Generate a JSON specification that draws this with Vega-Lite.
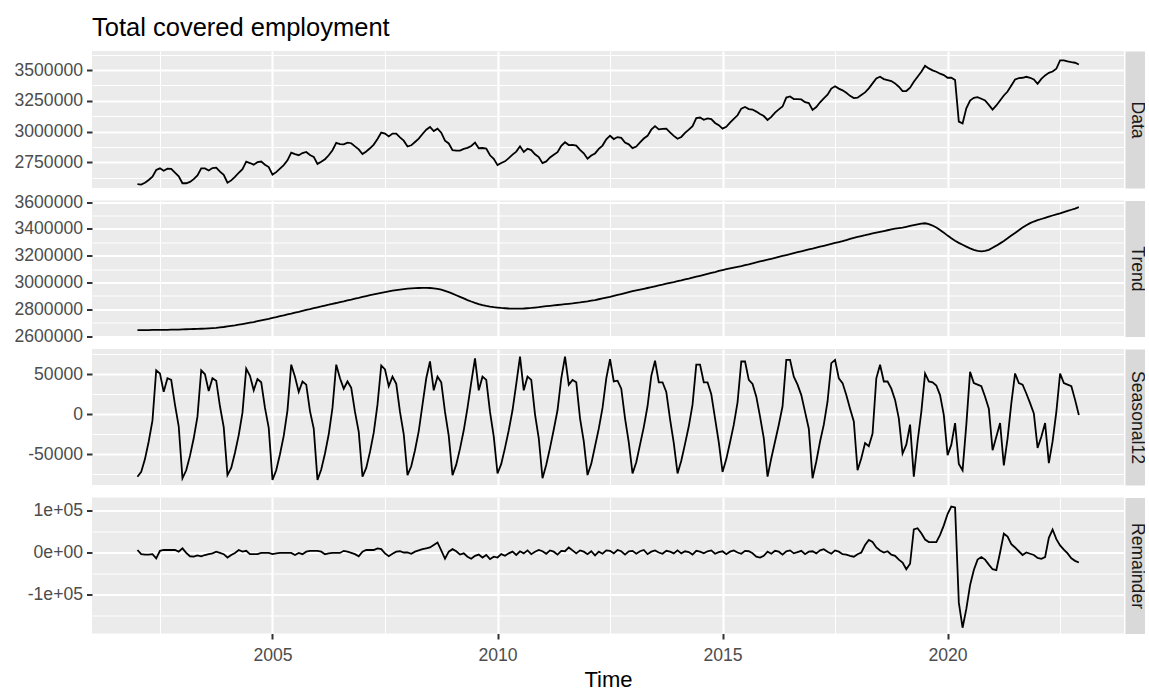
{
"$schema": "https://vega.github.io/schema/vega-lite/v6.json",
"background": "white",
"padding": {"left": 14, "top": 16, "right": 0, "bottom": 0},
"bounds": "flush",
"spacing": 12.5,
"title": {"text": "Total covered employment", "anchor": "start", "frame": "group", "fontSize": 25.5, "font": "Liberation Sans", "fontWeight": "normal", "color": "#000000", "offset": 4},
"config": {
  "font": "Liberation Sans",
  "view": {"fill": "#EBEBEB", "stroke": null},
  "line": {"color": "#000000", "strokeWidth": 1.8},
  "axis": {"gridColor": "#FFFFFF", "gridOpacity": 1, "labelFont": "Liberation Sans", "labelFontSize": 17.6, "labelColor": "#4D4D4D", "tickColor": "#333333", "tickSize": 5.5, "tickWidth": 2, "domain": false, "labelPadding": 4, "labelOverlap": false, "labelFlush": false, "labelBound": false, "titleFont": "Liberation Sans", "titleFontWeight": "normal"}
},
"datasets": {"stl": [
{"t":2002,"d":2573000,"tr":2645000,"s":-78000,"r":6000},
{"t":2002.0833,"d":2569000,"tr":2645000,"s":-72000,"r":-4000},
{"t":2002.1667,"d":2584000,"tr":2645000,"s":-56000,"r":-5000},
{"t":2002.25,"d":2606000,"tr":2645000,"s":-34000,"r":-5000},
{"t":2002.3333,"d":2634000,"tr":2646000,"s":-8000,"r":-4000},
{"t":2002.4167,"d":2687000,"tr":2646000,"s":55000,"r":-14000},
{"t":2002.5,"d":2701000,"tr":2646000,"s":51000,"r":4000},
{"t":2002.5833,"d":2681000,"tr":2647000,"s":28000,"r":6000},
{"t":2002.6667,"d":2698000,"tr":2647000,"s":45000,"r":6000},
{"t":2002.75,"d":2697000,"tr":2648000,"s":43000,"r":6000},
{"t":2002.8333,"d":2666000,"tr":2648000,"s":12000,"r":6000},
{"t":2002.9167,"d":2636000,"tr":2649000,"s":-15000,"r":2000},
{"t":2003,"d":2580000,"tr":2650000,"s":-80000,"r":10000},
{"t":2003.0833,"d":2580000,"tr":2651000,"s":-70000,"r":-1000},
{"t":2003.1667,"d":2591000,"tr":2652000,"s":-52000,"r":-9000},
{"t":2003.25,"d":2613000,"tr":2653000,"s":-30000,"r":-10000},
{"t":2003.3333,"d":2644000,"tr":2654000,"s":-3000,"r":-7000},
{"t":2003.4167,"d":2701000,"tr":2655000,"s":55000,"r":-9000},
{"t":2003.5,"d":2700000,"tr":2656000,"s":50000,"r":-6000},
{"t":2003.5833,"d":2683000,"tr":2658000,"s":29000,"r":-4000},
{"t":2003.6667,"d":2703000,"tr":2660000,"s":45000,"r":-2000},
{"t":2003.75,"d":2706000,"tr":2662000,"s":42000,"r":2000},
{"t":2003.8333,"d":2674000,"tr":2665000,"s":10000,"r":-1000},
{"t":2003.9167,"d":2648000,"tr":2668000,"s":-16000,"r":-4000},
{"t":2004,"d":2584000,"tr":2672000,"s":-76000,"r":-12000},
{"t":2004.0833,"d":2603000,"tr":2676000,"s":-67000,"r":-6000},
{"t":2004.1667,"d":2631000,"tr":2680000,"s":-48000,"r":-1000},
{"t":2004.25,"d":2665000,"tr":2685000,"s":-26000,"r":6000},
{"t":2004.3333,"d":2694000,"tr":2690000,"s":2000,"r":2000},
{"t":2004.4167,"d":2756000,"tr":2695000,"s":57000,"r":4000},
{"t":2004.5,"d":2744000,"tr":2700000,"s":48000,"r":-4000},
{"t":2004.5833,"d":2731000,"tr":2705000,"s":30000,"r":-4000},
{"t":2004.6667,"d":2751000,"tr":2711000,"s":44000,"r":-4000},
{"t":2004.75,"d":2756000,"tr":2717000,"s":40000,"r":-1000},
{"t":2004.8333,"d":2730000,"tr":2723000,"s":8000,"r":-1000},
{"t":2004.9167,"d":2711000,"tr":2729000,"s":-17000,"r":-1000},
{"t":2005,"d":2650000,"tr":2736000,"s":-82000,"r":-4000},
{"t":2005.0833,"d":2670000,"tr":2742000,"s":-70000,"r":-2000},
{"t":2005.1667,"d":2698000,"tr":2749000,"s":-50000,"r":-1000},
{"t":2005.25,"d":2727000,"tr":2755000,"s":-27000,"r":-1000},
{"t":2005.3333,"d":2766000,"tr":2762000,"s":5000,"r":-1000},
{"t":2005.4167,"d":2829000,"tr":2768000,"s":62000,"r":-1000},
{"t":2005.5,"d":2816000,"tr":2775000,"s":47000,"r":-6000},
{"t":2005.5833,"d":2808000,"tr":2781000,"s":28000,"r":-1000},
{"t":2005.6667,"d":2825000,"tr":2788000,"s":41000,"r":-4000},
{"t":2005.75,"d":2834000,"tr":2795000,"s":37000,"r":2000},
{"t":2005.8333,"d":2809000,"tr":2801000,"s":4000,"r":4000},
{"t":2005.9167,"d":2794000,"tr":2808000,"s":-18000,"r":4000},
{"t":2006,"d":2737000,"tr":2815000,"s":-82000,"r":4000},
{"t":2006.0833,"d":2754000,"tr":2821000,"s":-69000,"r":2000},
{"t":2006.1667,"d":2775000,"tr":2828000,"s":-49000,"r":-4000},
{"t":2006.25,"d":2807000,"tr":2834000,"s":-25000,"r":-2000},
{"t":2006.3333,"d":2848000,"tr":2841000,"s":8000,"r":-1000},
{"t":2006.4167,"d":2908000,"tr":2847000,"s":62000,"r":-1000},
{"t":2006.5,"d":2898000,"tr":2854000,"s":45000,"r":-1000},
{"t":2006.5833,"d":2896000,"tr":2860000,"s":32000,"r":4000},
{"t":2006.6667,"d":2910000,"tr":2867000,"s":41000,"r":2000},
{"t":2006.75,"d":2905000,"tr":2873000,"s":33000,"r":-1000},
{"t":2006.8333,"d":2879000,"tr":2880000,"s":3000,"r":-4000},
{"t":2006.9167,"d":2855000,"tr":2886000,"s":-22000,"r":-9000},
{"t":2007,"d":2817000,"tr":2893000,"s":-78000,"r":2000},
{"t":2007.0833,"d":2838000,"tr":2899000,"s":-67000,"r":6000},
{"t":2007.1667,"d":2864000,"tr":2905000,"s":-47000,"r":6000},
{"t":2007.25,"d":2894000,"tr":2911000,"s":-23000,"r":6000},
{"t":2007.3333,"d":2939000,"tr":2917000,"s":12000,"r":10000},
{"t":2007.4167,"d":2992000,"tr":2923000,"s":61000,"r":8000},
{"t":2007.5,"d":2983000,"tr":2929000,"s":56000,"r":-2000},
{"t":2007.5833,"d":2960000,"tr":2934000,"s":35000,"r":-9000},
{"t":2007.6667,"d":2983000,"tr":2939000,"s":47000,"r":-3000},
{"t":2007.75,"d":2983000,"tr":2943000,"s":38000,"r":2000},
{"t":2007.8333,"d":2953000,"tr":2947000,"s":3000,"r":3000},
{"t":2007.9167,"d":2926000,"tr":2951000,"s":-25000,"r":0},
{"t":2008,"d":2878000,"tr":2954000,"s":-76000,"r":0},
{"t":2008.0833,"d":2888000,"tr":2956000,"s":-65000,"r":-3000},
{"t":2008.1667,"d":2915000,"tr":2958000,"s":-45000,"r":2000},
{"t":2008.25,"d":2943000,"tr":2959000,"s":-21000,"r":5000},
{"t":2008.3333,"d":2980000,"tr":2960000,"s":12000,"r":8000},
{"t":2008.4167,"d":3015000,"tr":2960000,"s":45000,"r":10000},
{"t":2008.5,"d":3037000,"tr":2959000,"s":66000,"r":12000},
{"t":2008.5833,"d":3004000,"tr":2956000,"s":30000,"r":18000},
{"t":2008.6667,"d":3023000,"tr":2952000,"s":47000,"r":24000},
{"t":2008.75,"d":2991000,"tr":2946000,"s":40000,"r":5000},
{"t":2008.8333,"d":2926000,"tr":2938000,"s":3000,"r":-15000},
{"t":2008.9167,"d":2903000,"tr":2928000,"s":-27000,"r":2000},
{"t":2009,"d":2849000,"tr":2917000,"s":-76000,"r":8000},
{"t":2009.0833,"d":2845000,"tr":2905000,"s":-63000,"r":3000},
{"t":2009.1667,"d":2845000,"tr":2893000,"s":-43000,"r":-5000},
{"t":2009.25,"d":2859000,"tr":2881000,"s":-20000,"r":-2000},
{"t":2009.3333,"d":2867000,"tr":2869000,"s":8000,"r":-10000},
{"t":2009.4167,"d":2883000,"tr":2858000,"s":40000,"r":-15000},
{"t":2009.5,"d":2910000,"tr":2848000,"s":70000,"r":-8000},
{"t":2009.5833,"d":2864000,"tr":2839000,"s":30000,"r":-5000},
{"t":2009.6667,"d":2866000,"tr":2831000,"s":47000,"r":-12000},
{"t":2009.75,"d":2862000,"tr":2825000,"s":43000,"r":-6000},
{"t":2009.8333,"d":2807000,"tr":2820000,"s":3000,"r":-16000},
{"t":2009.9167,"d":2778000,"tr":2816000,"s":-28000,"r":-10000},
{"t":2010,"d":2727000,"tr":2813000,"s":-74000,"r":-12000},
{"t":2010.0833,"d":2744000,"tr":2810000,"s":-62000,"r":-4000},
{"t":2010.1667,"d":2758000,"tr":2808000,"s":-42000,"r":-8000},
{"t":2010.25,"d":2784000,"tr":2806000,"s":-20000,"r":-2000},
{"t":2010.3333,"d":2812000,"tr":2805000,"s":5000,"r":2000},
{"t":2010.4167,"d":2837000,"tr":2805000,"s":38000,"r":-6000},
{"t":2010.5,"d":2880000,"tr":2805000,"s":72000,"r":3000},
{"t":2010.5833,"d":2834000,"tr":2806000,"s":30000,"r":-2000},
{"t":2010.6667,"d":2860000,"tr":2808000,"s":47000,"r":5000},
{"t":2010.75,"d":2849000,"tr":2810000,"s":43000,"r":-4000},
{"t":2010.8333,"d":2815000,"tr":2813000,"s":0,"r":2000},
{"t":2010.9167,"d":2792000,"tr":2816000,"s":-30000,"r":6000},
{"t":2011,"d":2743000,"tr":2820000,"s":-80000,"r":3000},
{"t":2011.0833,"d":2757000,"tr":2823000,"s":-63000,"r":-3000},
{"t":2011.1667,"d":2789000,"tr":2826000,"s":-42000,"r":5000},
{"t":2011.25,"d":2812000,"tr":2829000,"s":-19000,"r":2000},
{"t":2011.3333,"d":2832000,"tr":2832000,"s":5000,"r":-5000},
{"t":2011.4167,"d":2884000,"tr":2835000,"s":45000,"r":4000},
{"t":2011.5,"d":2913000,"tr":2838000,"s":72000,"r":3000},
{"t":2011.5833,"d":2890000,"tr":2841000,"s":37000,"r":12000},
{"t":2011.6667,"d":2892000,"tr":2844000,"s":43000,"r":5000},
{"t":2011.75,"d":2886000,"tr":2848000,"s":40000,"r":-2000},
{"t":2011.8333,"d":2851000,"tr":2851000,"s":-5000,"r":5000},
{"t":2011.9167,"d":2823000,"tr":2855000,"s":-34000,"r":2000},
{"t":2012,"d":2779000,"tr":2859000,"s":-76000,"r":-4000},
{"t":2012.0833,"d":2805000,"tr":2864000,"s":-62000,"r":3000},
{"t":2012.1667,"d":2822000,"tr":2869000,"s":-40000,"r":-7000},
{"t":2012.25,"d":2859000,"tr":2875000,"s":-18000,"r":2000},
{"t":2012.3333,"d":2886000,"tr":2881000,"s":8000,"r":-3000},
{"t":2012.4167,"d":2937000,"tr":2887000,"s":45000,"r":5000},
{"t":2012.5,"d":2966000,"tr":2893000,"s":69000,"r":4000},
{"t":2012.5833,"d":2939000,"tr":2900000,"s":41000,"r":-2000},
{"t":2012.6667,"d":2955000,"tr":2907000,"s":42000,"r":6000},
{"t":2012.75,"d":2949000,"tr":2914000,"s":32000,"r":3000},
{"t":2012.8333,"d":2911000,"tr":2921000,"s":-5000,"r":-5000},
{"t":2012.9167,"d":2896000,"tr":2928000,"s":-35000,"r":3000},
{"t":2013,"d":2865000,"tr":2935000,"s":-74000,"r":4000},
{"t":2013.0833,"d":2878000,"tr":2941000,"s":-60000,"r":-3000},
{"t":2013.1667,"d":2912000,"tr":2947000,"s":-38000,"r":3000},
{"t":2013.25,"d":2943000,"tr":2953000,"s":-16000,"r":6000},
{"t":2013.3333,"d":2965000,"tr":2959000,"s":10000,"r":-4000},
{"t":2013.4167,"d":3015000,"tr":2965000,"s":48000,"r":2000},
{"t":2013.5,"d":3044000,"tr":2972000,"s":67000,"r":5000},
{"t":2013.5833,"d":3018000,"tr":2978000,"s":40000,"r":0},
{"t":2013.6667,"d":3021000,"tr":2984000,"s":40000,"r":-3000},
{"t":2013.75,"d":3023000,"tr":2991000,"s":28000,"r":4000},
{"t":2013.8333,"d":2993000,"tr":2997000,"s":-6000,"r":2000},
{"t":2013.9167,"d":2965000,"tr":3003000,"s":-36000,"r":-2000},
{"t":2014,"d":2941000,"tr":3010000,"s":-74000,"r":5000},
{"t":2014.0833,"d":2956000,"tr":3016000,"s":-58000,"r":-2000},
{"t":2014.1667,"d":2989000,"tr":3023000,"s":-37000,"r":3000},
{"t":2014.25,"d":3015000,"tr":3029000,"s":-15000,"r":1000},
{"t":2014.3333,"d":3043000,"tr":3036000,"s":12000,"r":-5000},
{"t":2014.4167,"d":3109000,"tr":3043000,"s":62000,"r":4000},
{"t":2014.5,"d":3114000,"tr":3050000,"s":62000,"r":2000},
{"t":2014.5833,"d":3095000,"tr":3057000,"s":40000,"r":-2000},
{"t":2014.6667,"d":3107000,"tr":3064000,"s":40000,"r":3000},
{"t":2014.75,"d":3101000,"tr":3071000,"s":25000,"r":5000},
{"t":2014.8333,"d":3070000,"tr":3078000,"s":-5000,"r":-3000},
{"t":2014.9167,"d":3052000,"tr":3086000,"s":-35000,"r":1000},
{"t":2015,"d":3024000,"tr":3093000,"s":-72000,"r":3000},
{"t":2015.0833,"d":3039000,"tr":3099000,"s":-56000,"r":-4000},
{"t":2015.1667,"d":3072000,"tr":3105000,"s":-35000,"r":2000},
{"t":2015.25,"d":3103000,"tr":3111000,"s":-13000,"r":5000},
{"t":2015.3333,"d":3132000,"tr":3117000,"s":15000,"r":0},
{"t":2015.4167,"d":3186000,"tr":3123000,"s":66000,"r":-3000},
{"t":2015.5,"d":3200000,"tr":3130000,"s":66000,"r":4000},
{"t":2015.5833,"d":3182000,"tr":3136000,"s":43000,"r":3000},
{"t":2015.6667,"d":3179000,"tr":3143000,"s":38000,"r":-2000},
{"t":2015.75,"d":3162000,"tr":3150000,"s":22000,"r":-10000},
{"t":2015.8333,"d":3142000,"tr":3157000,"s":-3000,"r":-12000},
{"t":2015.9167,"d":3126000,"tr":3164000,"s":-30000,"r":-8000},
{"t":2016,"d":3094000,"tr":3170000,"s":-78000,"r":2000},
{"t":2016.0833,"d":3119000,"tr":3177000,"s":-55000,"r":-3000},
{"t":2016.1667,"d":3154000,"tr":3184000,"s":-34000,"r":4000},
{"t":2016.25,"d":3180000,"tr":3191000,"s":-13000,"r":2000},
{"t":2016.3333,"d":3203000,"tr":3198000,"s":10000,"r":-5000},
{"t":2016.4167,"d":3276000,"tr":3205000,"s":68000,"r":3000},
{"t":2016.5,"d":3285000,"tr":3212000,"s":68000,"r":5000},
{"t":2016.5833,"d":3264000,"tr":3219000,"s":47000,"r":-2000},
{"t":2016.6667,"d":3264000,"tr":3226000,"s":37000,"r":1000},
{"t":2016.75,"d":3261000,"tr":3233000,"s":24000,"r":4000},
{"t":2016.8333,"d":3239000,"tr":3240000,"s":3000,"r":-4000},
{"t":2016.9167,"d":3231000,"tr":3247000,"s":-18000,"r":2000},
{"t":2017,"d":3176000,"tr":3253000,"s":-80000,"r":3000},
{"t":2017.0833,"d":3199000,"tr":3260000,"s":-59000,"r":-2000},
{"t":2017.1667,"d":3238000,"tr":3267000,"s":-34000,"r":5000},
{"t":2017.25,"d":3269000,"tr":3274000,"s":-13000,"r":8000},
{"t":2017.3333,"d":3299000,"tr":3281000,"s":16000,"r":2000},
{"t":2017.4167,"d":3349000,"tr":3288000,"s":64000,"r":-3000},
{"t":2017.5,"d":3368000,"tr":3295000,"s":68000,"r":5000},
{"t":2017.5833,"d":3349000,"tr":3302000,"s":45000,"r":2000},
{"t":2017.6667,"d":3335000,"tr":3309000,"s":39000,"r":-4000},
{"t":2017.75,"d":3315000,"tr":3317000,"s":24000,"r":-5000},
{"t":2017.8333,"d":3290000,"tr":3325000,"s":7000,"r":-8000},
{"t":2017.9167,"d":3272000,"tr":3333000,"s":-9000,"r":-10000},
{"t":2018,"d":3275000,"tr":3340000,"s":-70000,"r":-4000},
{"t":2018.0833,"d":3296000,"tr":3347000,"s":-55000,"r":0},
{"t":2018.1667,"d":3318000,"tr":3353000,"s":-36000,"r":18000},
{"t":2018.25,"d":3351000,"tr":3360000,"s":-40000,"r":30000},
{"t":2018.3333,"d":3391000,"tr":3366000,"s":-24000,"r":25000},
{"t":2018.4167,"d":3432000,"tr":3372000,"s":45000,"r":12000},
{"t":2018.5,"d":3445000,"tr":3378000,"s":62000,"r":5000},
{"t":2018.5833,"d":3426000,"tr":3384000,"s":41000,"r":0},
{"t":2018.6667,"d":3418000,"tr":3390000,"s":41000,"r":3000},
{"t":2018.75,"d":3410000,"tr":3396000,"s":32000,"r":-5000},
{"t":2018.8333,"d":3391000,"tr":3402000,"s":18000,"r":-8000},
{"t":2018.9167,"d":3364000,"tr":3406000,"s":-5000,"r":-17000},
{"t":2019,"d":3329000,"tr":3410000,"s":-49000,"r":-24000},
{"t":2019.0833,"d":3329000,"tr":3416000,"s":-38000,"r":-40000},
{"t":2019.1667,"d":3356000,"tr":3422000,"s":-13000,"r":-27000},
{"t":2019.25,"d":3405000,"tr":3428000,"s":-78000,"r":55000},
{"t":2019.3333,"d":3445000,"tr":3434000,"s":-34000,"r":58000},
{"t":2019.4167,"d":3486000,"tr":3440000,"s":3000,"r":46000},
{"t":2019.5,"d":3535000,"tr":3442000,"s":51000,"r":31000},
{"t":2019.5833,"d":3513000,"tr":3436000,"s":41000,"r":25000},
{"t":2019.6667,"d":3497000,"tr":3425000,"s":40000,"r":25000},
{"t":2019.75,"d":3486000,"tr":3410000,"s":36000,"r":25000},
{"t":2019.8333,"d":3470000,"tr":3392000,"s":24000,"r":42000},
{"t":2019.9167,"d":3459000,"tr":3372000,"s":-1000,"r":65000},
{"t":2020,"d":3437000,"tr":3350000,"s":-51000,"r":92000},
{"t":2020.0833,"d":3437000,"tr":3330000,"s":-38000,"r":110000},
{"t":2020.1667,"d":3418000,"tr":3312000,"s":-11000,"r":108000},
{"t":2020.25,"d":3080000,"tr":3296000,"s":-62000,"r":-120000},
{"t":2020.3333,"d":3066000,"tr":3282000,"s":-70000,"r":-180000},
{"t":2020.4167,"d":3188000,"tr":3268000,"s":-13000,"r":-135000},
{"t":2020.5,"d":3252000,"tr":3255000,"s":53000,"r":-78000},
{"t":2020.5833,"d":3274000,"tr":3244000,"s":39000,"r":-42000},
{"t":2020.6667,"d":3280000,"tr":3236000,"s":37000,"r":-17000},
{"t":2020.75,"d":3266000,"tr":3233000,"s":35000,"r":-11000},
{"t":2020.8333,"d":3252000,"tr":3236000,"s":22000,"r":-17000},
{"t":2020.9167,"d":3217000,"tr":3244000,"s":7000,"r":-29000},
{"t":2021,"d":3179000,"tr":3260000,"s":-45000,"r":-40000},
{"t":2021.0833,"d":3212000,"tr":3275000,"s":-28000,"r":-42000},
{"t":2021.1667,"d":3252000,"tr":3292000,"s":-11000,"r":0},
{"t":2021.25,"d":3293000,"tr":3310000,"s":-64000,"r":45000},
{"t":2021.3333,"d":3325000,"tr":3330000,"s":-30000,"r":38000},
{"t":2021.4167,"d":3374000,"tr":3350000,"s":14000,"r":20000},
{"t":2021.5,"d":3423000,"tr":3370000,"s":51000,"r":12000},
{"t":2021.5833,"d":3434000,"tr":3390000,"s":39000,"r":3000},
{"t":2021.6667,"d":3437000,"tr":3410000,"s":37000,"r":-6000},
{"t":2021.75,"d":3445000,"tr":3428000,"s":26000,"r":0},
{"t":2021.8333,"d":3437000,"tr":3443000,"s":14000,"r":-3000},
{"t":2021.9167,"d":3423000,"tr":3455000,"s":1000,"r":-6000},
{"t":2022,"d":3388000,"tr":3465000,"s":-42000,"r":-13000},
{"t":2022.0833,"d":3428000,"tr":3474000,"s":-28000,"r":-15000},
{"t":2022.1667,"d":3456000,"tr":3483000,"s":-11000,"r":-11000},
{"t":2022.25,"d":3477000,"tr":3492000,"s":-61000,"r":35000},
{"t":2022.3333,"d":3488000,"tr":3500000,"s":-34000,"r":55000},
{"t":2022.4167,"d":3510000,"tr":3508000,"s":3000,"r":32000},
{"t":2022.5,"d":3578000,"tr":3516000,"s":51000,"r":17000},
{"t":2022.5833,"d":3578000,"tr":3525000,"s":39000,"r":7000},
{"t":2022.6667,"d":3570000,"tr":3534000,"s":37000,"r":-2000},
{"t":2022.75,"d":3564000,"tr":3543000,"s":35000,"r":-14000},
{"t":2022.8333,"d":3559000,"tr":3552000,"s":18000,"r":-20000},
{"t":2022.9167,"d":3545000,"tr":3562000,"s":-1000,"r":-24000}
]},
"vconcat": [
{"width": 1032, "height": 137, "data": {"name": "stl"},
 "resolve": {"scale": {"y": "independent"}, "axis": {"y": "independent"}},
 "layer": [
  {"mark": {"type": "line"},
   "encoding": {
     "x": {"field": "t", "type": "quantitative", "scale": {"domain": [2000.99, 2023.92], "nice": false, "zero": false},
           "axis": {"title": null, "labels": false, "ticks": false, "values": [2002.5,2005,2007.5,2010,2012.5,2015,2017.5,2020,2022.5], "gridWidth": {"condition": {"test": "datum.value % 5 !== 0", "value": 1.05}, "value": 2.1}}},
     "y": {"field": "d", "type": "quantitative", "scale": {"domain": [2541200, 3654400], "nice": false, "zero": false},
           "axis": {"title": null, "values": [2625000,2750000,2875000,3000000,3125000,3250000,3375000,3500000,3625000], "labelExpr": "datum.value % 250000 === 0 ? toString(datum.value) : ''", "gridWidth": {"condition": {"test": "datum.value % 250000 !== 0", "value": 1.05}, "value": 2.1}, "tickOpacity": {"condition": {"test": "datum.value % 250000 !== 0", "value": 0}, "value": 1}}}
   }},
  {"mark": {"type": "rule", "opacity": 0},
   "encoding": {
     "y": {"field": "d", "type": "quantitative", "scale": {"domain": [2541200, 3654400], "nice": false, "zero": false},
           "axis": {"orient": "right", "labels": false, "ticks": false, "grid": false, "domain": true, "domainColor": "#D9D9D9", "domainWidth": 22, "offset": 12, "title": "Data", "titleAngle": 90, "titleBaseline": "middle", "titleAlign": "center", "titlePadding": 0, "titleFontSize": 17.6, "titleColor": "#1A1A1A"}}
   }}
 ]},
{"width": 1032, "height": 136, "data": {"name": "stl"},
 "resolve": {"scale": {"y": "independent"}, "axis": {"y": "independent"}},
 "layer": [
  {"mark": {"type": "line"},
   "encoding": {
     "x": {"field": "t", "type": "quantitative", "scale": {"domain": [2000.99, 2023.92], "nice": false, "zero": false},
           "axis": {"title": null, "labels": false, "ticks": false, "values": [2002.5,2005,2007.5,2010,2012.5,2015,2017.5,2020,2022.5], "gridWidth": {"condition": {"test": "datum.value % 5 !== 0", "value": 1.05}, "value": 2.1}}},
     "y": {"field": "tr", "type": "quantitative", "scale": {"domain": [2597000, 3612000], "nice": false, "zero": false},
           "axis": {"title": null, "values": [2600000,2700000,2800000,2900000,3000000,3100000,3200000,3300000,3400000,3500000,3600000], "labelExpr": "datum.value % 200000 === 0 ? toString(datum.value) : ''", "gridWidth": {"condition": {"test": "datum.value % 200000 !== 0", "value": 1.05}, "value": 2.1}, "tickOpacity": {"condition": {"test": "datum.value % 200000 !== 0", "value": 0}, "value": 1}}}
   }},
  {"mark": {"type": "rule", "opacity": 0},
   "encoding": {
     "y": {"field": "tr", "type": "quantitative", "scale": {"domain": [2597000, 3612000], "nice": false, "zero": false},
           "axis": {"orient": "right", "labels": false, "ticks": false, "grid": false, "domain": true, "domainColor": "#D9D9D9", "domainWidth": 22, "offset": 12, "title": "Trend", "titleAngle": 90, "titleBaseline": "middle", "titleAlign": "center", "titlePadding": 0, "titleFontSize": 17.6, "titleColor": "#1A1A1A"}}
   }}
 ]},
{"width": 1032, "height": 136, "data": {"name": "stl"},
 "resolve": {"scale": {"y": "independent"}, "axis": {"y": "independent"}},
 "layer": [
  {"mark": {"type": "line"},
   "encoding": {
     "x": {"field": "t", "type": "quantitative", "scale": {"domain": [2000.99, 2023.92], "nice": false, "zero": false},
           "axis": {"title": null, "labels": false, "ticks": false, "values": [2002.5,2005,2007.5,2010,2012.5,2015,2017.5,2020,2022.5], "gridWidth": {"condition": {"test": "datum.value % 5 !== 0", "value": 1.05}, "value": 2.1}}},
     "y": {"field": "s", "type": "quantitative", "scale": {"domain": [-88400, 81600], "nice": false, "zero": false},
           "axis": {"title": null, "values": [-75000,-50000,-25000,0,25000,50000,75000], "labelExpr": "datum.value % 50000 === 0 ? toString(datum.value) : ''", "gridWidth": {"condition": {"test": "datum.value % 50000 !== 0", "value": 1.05}, "value": 2.1}, "tickOpacity": {"condition": {"test": "datum.value % 50000 !== 0", "value": 0}, "value": 1}}}
   }},
  {"mark": {"type": "rule", "opacity": 0},
   "encoding": {
     "y": {"field": "s", "type": "quantitative", "scale": {"domain": [-88400, 81600], "nice": false, "zero": false},
           "axis": {"orient": "right", "labels": false, "ticks": false, "grid": false, "domain": true, "domainColor": "#D9D9D9", "domainWidth": 22, "offset": 12, "title": "Seasonal12", "titleAngle": 90, "titleBaseline": "middle", "titleAlign": "center", "titlePadding": 0, "titleFontSize": 17.6, "titleColor": "#1A1A1A"}}
   }}
 ]},
{"width": 1032, "height": 136, "data": {"name": "stl"},
 "resolve": {"scale": {"y": "independent"}, "axis": {"y": "independent"}},
 "layer": [
  {"mark": {"type": "line"},
   "encoding": {
     "x": {"field": "t", "type": "quantitative", "scale": {"domain": [2000.99, 2023.92], "nice": false, "zero": false},
           "axis": {"title": "Time", "titleFontSize": 22, "titleColor": "#000000", "titlePadding": 6, "labelPadding": 7, "values": [2002.5,2005,2007.5,2010,2012.5,2015,2017.5,2020,2022.5], "labelExpr": "datum.value % 5 === 0 ? toString(datum.value) : ''", "gridWidth": {"condition": {"test": "datum.value % 5 !== 0", "value": 1.05}, "value": 2.1}, "tickOpacity": {"condition": {"test": "datum.value % 5 !== 0", "value": 0}, "value": 1}}},
     "y": {"field": "r", "type": "quantitative", "scale": {"domain": [-193800, 131600], "nice": false, "zero": false},
           "axis": {"title": null, "values": [-150000,-100000,-50000,0,50000,100000], "labelExpr": "datum.value === 100000 ? '1e+05' : datum.value === 0 ? '0e+00' : datum.value === -100000 ? '-1e+05' : ''", "gridWidth": {"condition": {"test": "datum.value % 100000 !== 0", "value": 1.05}, "value": 2.1}, "tickOpacity": {"condition": {"test": "datum.value % 100000 !== 0", "value": 0}, "value": 1}}}
   }},
  {"mark": {"type": "rule", "opacity": 0},
   "encoding": {
     "y": {"field": "r", "type": "quantitative", "scale": {"domain": [-193800, 131600], "nice": false, "zero": false},
           "axis": {"orient": "right", "labels": false, "ticks": false, "grid": false, "domain": true, "domainColor": "#D9D9D9", "domainWidth": 22, "offset": 12, "title": "Remainder", "titleAngle": 90, "titleBaseline": "middle", "titleAlign": "center", "titlePadding": 0, "titleFontSize": 17.6, "titleColor": "#1A1A1A"}}
   }}
 ]}
]
}
